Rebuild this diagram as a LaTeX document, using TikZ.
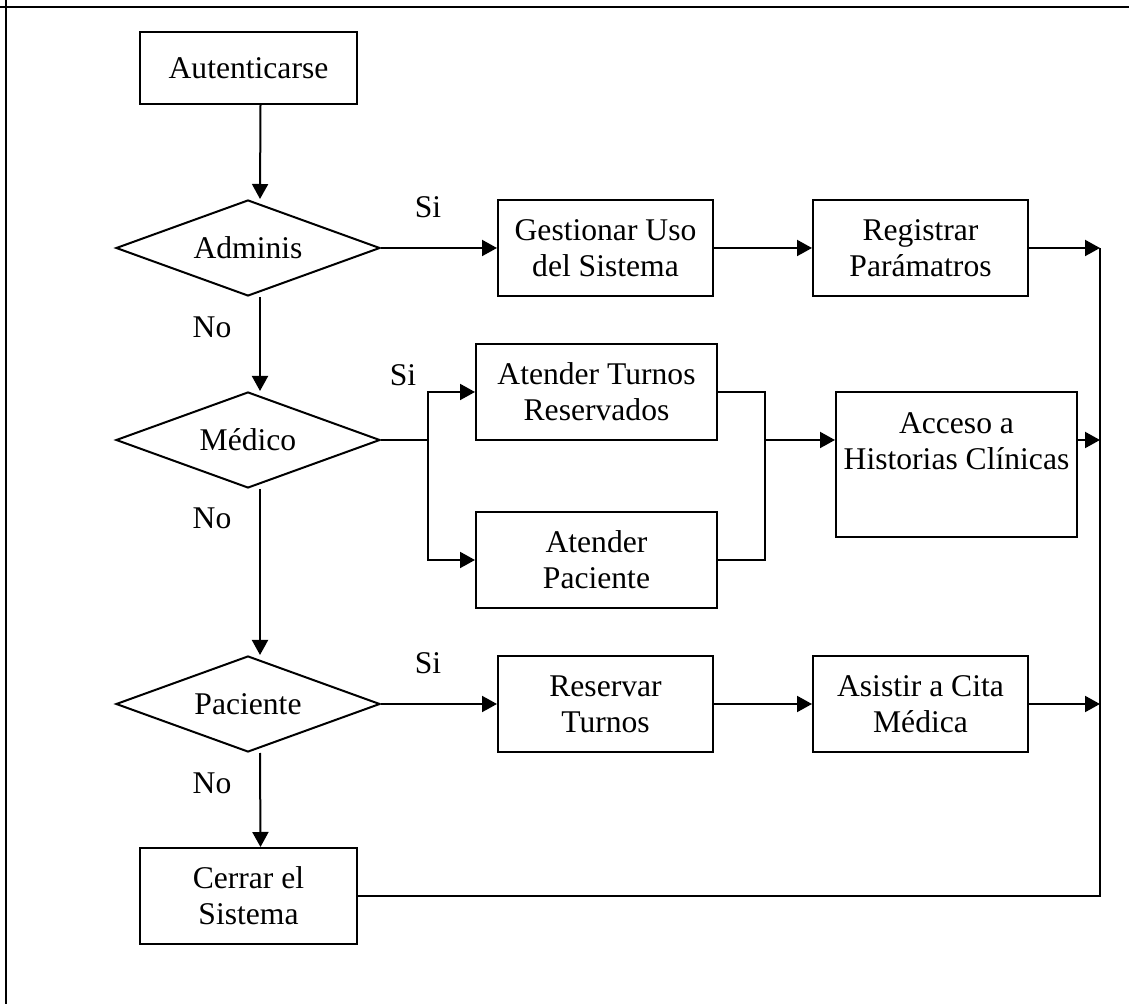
\documentclass[tikz,border=0pt]{standalone}
\usepackage{fontspec}
\setmainfont{Liberation Serif}
\usetikzlibrary{shapes.geometric,arrows.meta}
\begin{document}
\begin{tikzpicture}[x=0.5pt,y=-0.5pt,
  every node/.style={font=\fontsize{15.8}{18}\selectfont},
  box/.style={draw,line width=1pt,align=center,inner sep=0pt},
  dec/.style={draw,shape=diamond,line width=1pt,inner sep=0pt,minimum width=132pt,minimum height=48pt},
  lin/.style={line width=1pt},
  arr/.style={line width=1pt,-{Triangle[length=7.5pt,width=8pt]}},
  frame/.style={line width=1.4pt}
]
\useasboundingbox (0,0) rectangle (1129,1004);
\draw[frame] (0,7) -- (1129,7);
\draw[frame] (6,0) -- (6,1004);

\node[box,minimum width=108.5pt,minimum height=36pt] (aut) at (248.5,68) {Autenticarse};
\node[dec,label={center:Adminis}] (adm) at (248,248) {};
\node[dec,label={center:Médico}] (med) at (248,440) {};
\node[dec,label={center:Paciente}] (pac) at (248,704) {};
\node[box,minimum width=108.5pt,minimum height=48pt] (cer) at (248.5,896) {Cerrar el\\Sistema};

\node[box,minimum width=107.5pt,minimum height=48pt] (ges) at (605.5,248) {Gestionar Uso\\del Sistema};
\node[box,minimum width=107.5pt,minimum height=48pt] (reg) at (920.5,248) {Registrar\\Parámatros};

\node[box,minimum width=120.5pt,minimum height=48pt] (atr) at (596.5,392) {Atender Turnos\\Reservados};
\node[box,minimum width=120.5pt,minimum height=48pt] (apa) at (596.5,560) {Atender\\Paciente};
\node[box,minimum width=120.5pt,minimum height=72.5pt,
  label={[align=center,yshift=11.75pt]center:{Acceso a\\Historias Clínicas}}] (acc) at (956.5,464.5) {};

\node[box,minimum width=107.5pt,minimum height=48pt] (res) at (605.5,704) {Reservar\\Turnos};
\node[box,minimum width=107.5pt,minimum height=48pt] (asi) at (920.5,704) {Asistir a Cita\\Médica};

\node (si1) at (428,207) {Si};
\node (si2) at (403,375) {Si};
\node (si3) at (428,663) {Si};
\node (no1) at (212,327) {No};
\node (no2) at (212,518) {No};
\node (no3) at (212,783) {No};

\coordinate (ctop) at (1100,248);
\coordinate (jm) at (428,440);
\coordinate (jr) at (765,440);

% vertical chain
\draw[arr] ([xshift=6pt]aut.south) -- ([xshift=6pt]adm.north);
\draw[arr] ([xshift=6pt]adm.south) -- ([xshift=6pt]med.north);
\draw[arr] ([xshift=6pt]med.south) -- ([xshift=6pt]pac.north);
\draw[arr] ([xshift=6pt]pac.south) -- ([xshift=6pt]cer.north);

% Adminis row
\draw[arr] (adm.east) -- (ges.west);
\draw[arr] (ges.east) -- (reg.west);
\draw[arr] (reg.east) -- (ctop);

% Medico row
\draw[lin] (med.east) -- (jm);
\draw[arr] (jm) |- (atr.west);
\draw[arr] (jm) |- (apa.west);
\draw[lin] (atr.east) -| (jr);
\draw[lin] (apa.east) -| (jr);
\draw[arr] (jr) -- (acc.west |- jr);
\draw[arr] (acc.east |- jr) -- (ctop |- jr);

% Paciente row
\draw[arr] (pac.east) -- (res.west);
\draw[arr] (res.east) -- (asi.west);
\draw[arr] (asi.east) -- (ctop |- asi.east);

% Cerrar and collector
\draw[lin] (cer.east) -- (cer.east -| ctop) -- (ctop);
\end{tikzpicture}
\end{document}
